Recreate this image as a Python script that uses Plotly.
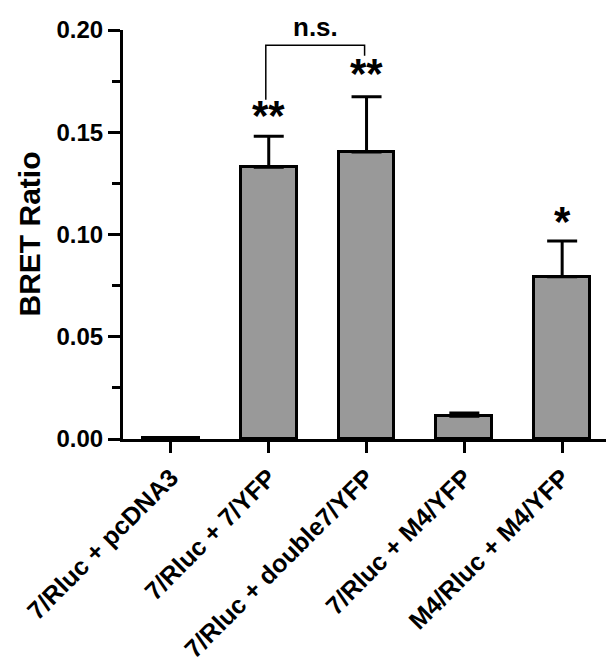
import plotly.graph_objects as go

categories = ["7/Rluc + pcDNA3", "7/Rluc + 7/YFP", "7/Rluc + double7/YFP",
              "7/Rluc + M4/YFP", "M4/Rluc + M4/YFP"]
bret_ratio = [0.0003, 0.1329, 0.1403, 0.0111, 0.0793]
bret_error = [0.0, 0.0152, 0.0270, 0.0016, 0.0175]
significance = ["", "**", "**", "", "*"]
sig_y = [None, 0.158, 0.1785, None, 0.1062]
ytick_vals = [0.00, 0.05, 0.10, 0.15, 0.20]
ytick_text = ["0.00", "0.05", "0.10", "0.15", "0.20"]
bracket_x = [0.97, 0.97, 1.98, 1.98]
bracket_y = [0.1659, 0.1925, 0.1925, 0.1874]
bracket_label = "n.s."
bracket_label_paper_y = 1.007

FONT = "Liberation Sans"
BAR_GREY = "#999999"

fig = go.Figure()
fig.add_trace(go.Bar(
    x=list(range(len(categories))),
    y=bret_ratio,
    width=0.57,
    marker=dict(color=BAR_GREY, line=dict(color="black", width=3)),
    error_y=dict(type="data", array=bret_error, arrayminus=[0] * len(bret_error),
                 symmetric=False, color="black", thickness=3, width=15),
    showlegend=False,
))

fig.add_trace(go.Scatter(
    x=bracket_x, y=bracket_y, mode="lines",
    line=dict(color="black", width=1.5), showlegend=False, hoverinfo="skip",
    cliponaxis=False,
))

annotations = []
for i, (s, yy) in enumerate(zip(significance, sig_y)):
    if s:
        annotations.append(dict(x=i, y=yy, xref="x", yref="y", text=s, showarrow=False,
                                font=dict(family=FONT, size=42, color="black", weight="bold"),
                                xanchor="center", yanchor="middle"))
annotations.append(dict(x=(bracket_x[0] + bracket_x[-1]) / 2, y=bracket_label_paper_y,
                        xref="x", yref="paper",
                        text=bracket_label, showarrow=False,
                        font=dict(family=FONT, size=26, color="black", weight="bold"),
                        xanchor="center", yanchor="middle"))
annotations.append(dict(x=-0.1914, y=0.5, xref="paper", yref="paper", text="BRET Ratio",
                        textangle=-90, showarrow=False,
                        font=dict(family=FONT, size=30, color="black", weight="bold"),
                        xanchor="center", yanchor="middle"))

fig.update_layout(
    width=614, height=663,
    margin=dict(l=115, r=8, t=20, b=219),
    plot_bgcolor="white", paper_bgcolor="white",
    annotations=annotations,
    bargap=0,
)
fig.update_xaxes(
    range=[-0.49, 4.53],
    tickmode="array", tickvals=list(range(len(categories))), ticktext=categories,
    tickangle=-45,
    tickfont=dict(family=FONT, size=25, color="black", weight="bold"),
    showline=True, linecolor="black", linewidth=3,
    ticks="outside", ticklen=11, tickwidth=3, tickcolor="black",
    showgrid=False, zeroline=False,
)
fig.update_yaxes(
    range=[0, 0.2],
    tickmode="array", tickvals=ytick_vals, ticktext=ytick_text,
    tickfont=dict(family=FONT, size=24, color="black", weight="bold"),
    showline=True, linecolor="black", linewidth=3,
    ticks="outside", ticklen=12, tickwidth=3, tickcolor="black",
    minor=dict(dtick=0.025, tick0=0, ticks="outside", ticklen=8, tickwidth=3, tickcolor="black"),
    showgrid=False, zeroline=False,
)

fig.write_html("out.html")
